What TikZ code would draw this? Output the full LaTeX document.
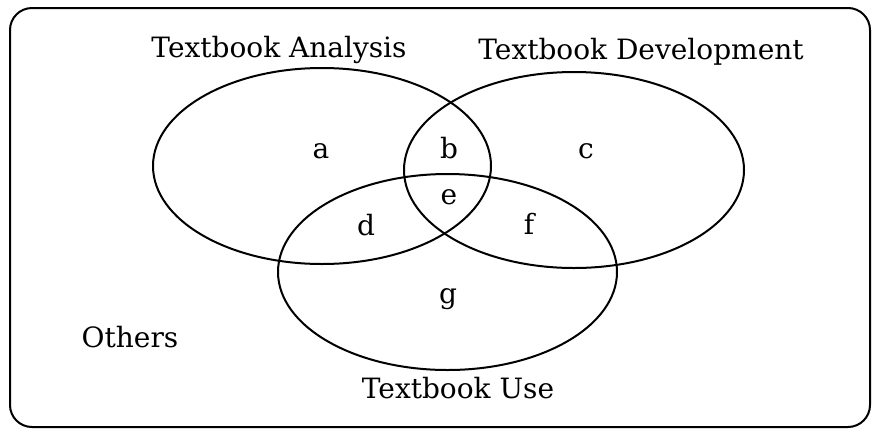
\documentclass[tikz,border=0pt]{standalone}
\usepackage{fontspec}
\setmainfont{DejaVu Serif}
\begin{document}
\begin{tikzpicture}[x=1pt,y=-1pt,
  setline/.style={line width=2pt},
  lbl/.style={font=\fontsize{28}{32}\selectfont, anchor=base, inner sep=0pt}]
\useasboundingbox (0,0) rectangle (872,429);
\draw[setline, rounded corners=22pt] (10,8) rectangle (870,427);
\draw[setline] (322,166) ellipse [x radius=169pt, y radius=98pt];
\draw[setline] (574,170) ellipse [x radius=170pt, y radius=98pt];
\draw[setline] (447.5,272) ellipse [x radius=169.5pt, y radius=98pt];
\node[lbl] (ta) at (279,57) {Textbook Analysis};
\node[lbl] (td) at (641,59) {Textbook Development};
\node[lbl] (tu) at (458,398) {Textbook Use};
\node[lbl] (ot) at (130,347) {Others};
\node[lbl] (a) at (321,158) {a};
\node[lbl] (b) at (449,158) {b};
\node[lbl] (c) at (586,158) {c};
\node[lbl] (e) at (449,204) {e};
\node[lbl] (d) at (366,235) {d};
\node[lbl] (f) at (529,234) {f};
\node[lbl] (g) at (448,303) {g};
\end{tikzpicture}
\end{document}
